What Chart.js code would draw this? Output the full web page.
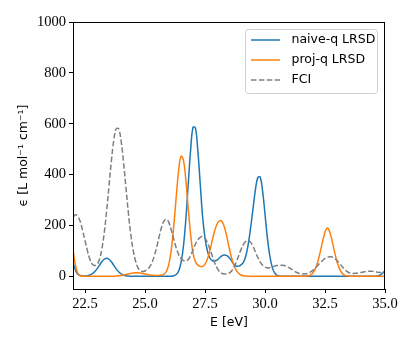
<!DOCTYPE html>
<html>
<head>
<meta charset="utf-8">
<script src="https://cdn.jsdelivr.net/npm/chart.js@4.4.1/dist/chart.umd.min.js"></script>
<style>
  html, body { margin: 0; padding: 0; background: #fff; }
  #chart { display: block; }
</style>
</head>
<body>
<canvas id="chart" width="415" height="346"></canvas>
<script>
// photon energy grid, eV
const energies = [
  22.0, 22.1, 22.2, 22.3, 22.4, 22.5, 22.6, 22.7, 22.8, 22.9,
  23.0, 23.1, 23.2, 23.3, 23.4, 23.5, 23.6, 23.7, 23.8, 23.9,
  24.0, 24.1, 24.2, 24.3, 24.4, 24.5, 24.6, 24.7, 24.8, 24.9,
  25.0, 25.1, 25.2, 25.3, 25.4, 25.5, 25.6, 25.7, 25.8, 25.9,
  26.0, 26.1, 26.2, 26.3, 26.4, 26.5, 26.6, 26.7, 26.8, 26.9,
  27.0, 27.1, 27.2, 27.3, 27.4, 27.5, 27.6, 27.7, 27.8, 27.9,
  28.0, 28.1, 28.2, 28.3, 28.4, 28.5, 28.6, 28.7, 28.8, 28.9,
  29.0, 29.1, 29.2, 29.3, 29.4, 29.5, 29.6, 29.7, 29.8, 29.9,
  30.0, 30.1, 30.2, 30.3, 30.4, 30.5, 30.6, 30.7, 30.8, 30.9,
  31.0, 31.1, 31.2, 31.3, 31.4, 31.5, 31.6, 31.7, 31.8, 31.9,
  32.0, 32.1, 32.2, 32.3, 32.4, 32.5, 32.6, 32.7, 32.8, 32.9,
  33.0, 33.1, 33.2, 33.3, 33.4, 33.5, 33.6, 33.7, 33.8, 33.9,
  34.0, 34.1, 34.2, 34.3, 34.4, 34.5, 34.6, 34.7, 34.8, 34.9,
  35.0
];

// epsilon values, one row per eV
const naiveQ = [
  55, 25, 8, 3, 2, 1, 2, 5, 10, 18,
  29, 43, 57, 67, 71, 67, 57, 43, 29, 18,
  10, 5, 2, 1, 0, 0, 0, 0, 0, 0,
  0, 0, 0, 0, 0, 0, 0, 0, 0, 0,
  0, 0, 2, 7, 20, 53, 117, 222, 360, 495,
  586, 584, 495, 365, 235, 150, 100, 72, 62, 60,
  64, 72, 80, 84, 82, 74, 62, 48, 40, 40,
  45, 55, 80, 125, 190, 265, 340, 388, 390, 335,
  245, 150, 80, 36, 13, 4, 1, 0, 0, 0,
  0, 0, 0, 0, 0, 0, 0, 0, 0, 0,
  0, 0, 0, 0, 0, 0, 0, 0, 0, 0,
  0, 0, 0, 0, 0, 0, 0, 0, 0, 0,
  0, 0, 0, 0, 0, 0, 0, 2, 5, 12,
  24
];

const projQ = [
  106, 45, 12, 3, 1, 0, 0, 0, 0, 0,
  0, 0, 0, 0, 0, 0, 0, 0, 1, 2,
  3, 5, 7, 9, 11, 13, 14, 14, 13, 11,
  9, 7, 5, 4, 3, 3, 4, 5, 9, 21,
  50, 108, 199, 311, 415, 472, 458, 380, 270, 165,
  92, 58, 44, 39, 39, 48, 68, 100, 140, 178,
  205, 218, 216, 196, 160, 115, 75, 44, 24, 12,
  5, 2, 1, 0, 0, 0, 0, 0, 0, 0,
  0, 0, 0, 0, 0, 0, 0, 0, 0, 0,
  0, 0, 0, 0, 0, 0, 0, 1, 2, 5,
  14, 30, 57, 95, 137, 173, 190, 173, 137, 95,
  57, 30, 14, 5, 2, 1, 0, 0, 0, 0,
  0, 0, 0, 0, 0, 0, 0, 0, 0, 0,
  0
];

const fci = [
  232, 242, 236, 215, 180, 140, 101, 68, 48, 42,
  46, 66, 106, 170, 256, 355, 454, 535, 580, 580,
  535, 454, 355, 256, 170, 106, 62, 35, 22, 19,
  21, 27, 38, 56, 84, 120, 160, 196, 219, 224,
  210, 180, 145, 112, 86, 70, 62, 60, 66, 82,
  104, 126, 143, 153, 156, 150, 133, 108, 80, 54,
  33, 19, 12, 9, 9, 12, 20, 34, 55, 80,
  105, 125, 137, 140, 134, 118, 96, 74, 56, 43,
  36, 33, 34, 37, 40, 42, 43, 43, 42, 39,
  34, 28, 22, 16, 12, 10, 9, 10, 12, 17,
  24, 33, 43, 53, 62, 70, 75, 77, 76, 71,
  62, 51, 40, 29, 20, 14, 11, 11, 12, 13,
  15, 17, 19, 20, 20, 19, 18, 16, 15, 14,
  14
];

const seriesNames = ["naive-q LRSD", "proj-q LRSD", "FCI"];
const xTicks = [22.5, 25.0, 27.5, 30.0, 32.5, 35.0];
const yTicks = [0, 200, 400, 600, 800, 1000];

const sansFont = { family: "DejaVu Sans", size: 12.5 };
const serifFont = { family: "Liberation Serif", size: 14.5 };

const toPoints = (values) => values.map((y, i) => ({ x: energies[i], y: y }));

// matplotlib-style box around the axes and a legend inside the upper right corner
const axesDecor = {
  id: "axesDecor",
  afterDatasetsDraw(chart) {
    const { ctx, chartArea: a } = chart;
    ctx.save();
    ctx.strokeStyle = "#000";
    ctx.lineWidth = 1;
    ctx.strokeRect(Math.round(a.left) + 0.5, Math.round(a.top) + 0.5,
      Math.round(a.right - a.left) - 1, Math.round(a.bottom - a.top));
    ctx.restore();
  },
  afterDraw(chart) {
    const { ctx } = chart;
    const x0 = 245.5, y0 = 29.5, w = 132, h = 64;
    ctx.save();
    ctx.beginPath();
    ctx.roundRect(x0, y0, w, h, 3);
    ctx.fillStyle = "rgba(255,255,255,0.8)";
    ctx.fill();
    ctx.strokeStyle = "#d0d0d0";
    ctx.lineWidth = 1;
    ctx.stroke();

    ctx.font = sansFont.size + "px " + sansFont.family;
    ctx.textBaseline = "middle";
    ctx.textAlign = "left";
    chart.data.datasets.forEach((ds, i) => {
      const y = 40 + i * 20;
      ctx.beginPath();
      ctx.setLineDash(ds.borderDash || []);
      ctx.strokeStyle = ds.borderColor;
      ctx.lineWidth = ds.borderWidth;
      ctx.moveTo(251, y);
      ctx.lineTo(280, y);
      ctx.stroke();
      ctx.setLineDash([]);
      ctx.fillStyle = "#000";
      ctx.fillText(ds.label, 291.5, y);
    });
    ctx.restore();
  },
};

new Chart(document.getElementById("chart"), {
  type: "line",
  data: {
    datasets: [
      {
        label: seriesNames[0],
        data: toPoints(naiveQ),
        borderColor: "#1f77b4",
        borderWidth: 1.5,
        order: 2,
      },
      {
        label: seriesNames[1],
        data: toPoints(projQ),
        borderColor: "#ff7f0e",
        borderWidth: 1.5,
        order: 1,
      },
      {
        label: seriesNames[2],
        data: toPoints(fci),
        borderColor: "#7f7f7f",
        borderWidth: 1.5,
        borderDash: [5.5, 2.4],
        order: 0,
      },
    ],
  },
  options: {
    responsive: false,
    animation: false,
    devicePixelRatio: 1,
    layout: { padding: { top: 22, right: 30, bottom: 16, left: 0 } },
    elements: {
      point: { radius: 0 },
      line: { tension: 0.4, fill: false },
    },
    plugins: {
      legend: { display: false },
      tooltip: { enabled: false },
    },
    scales: {
      x: {
        type: "linear",
        min: 22,
        max: 35,
        afterBuildTicks: (s) => { s.ticks = xTicks.map((v) => ({ value: v })); },
        afterFit: (s) => { s.height = 41; },
        ticks: {
          callback: (v) => Number(v).toFixed(1),
          font: serifFont,
          color: "#000",
          padding: 2,
          maxRotation: 0,
          autoSkip: false,
        },
        grid: { drawOnChartArea: false, tickLength: 4, color: "#000" },
        border: { display: false },
        title: {
          display: true,
          text: "E [eV]",
          font: sansFont,
          color: "#000",
          padding: { top: 0, bottom: 0 },
        },
      },
      y: {
        type: "linear",
        min: -50,
        max: 1000,
        afterBuildTicks: (s) => { s.ticks = yTicks.map((v) => ({ value: v })); },
        afterFit: (s) => { s.width = 73; },
        ticks: {
          callback: (v) => String(v),
          font: serifFont,
          color: "#000",
          padding: 3,
          autoSkip: false,
        },
        grid: { drawOnChartArea: false, tickLength: 4, color: "#000" },
        border: { display: false },
        title: {
          display: true,
          text: "\u03f5 [L mol\u207b\u00b9 cm\u207b\u00b9]",
          font: sansFont,
          color: "#000",
          padding: { top: 16, bottom: 0 },
        },
      },
    },
  },
  plugins: [axesDecor],
});
</script>
</body>
</html>
